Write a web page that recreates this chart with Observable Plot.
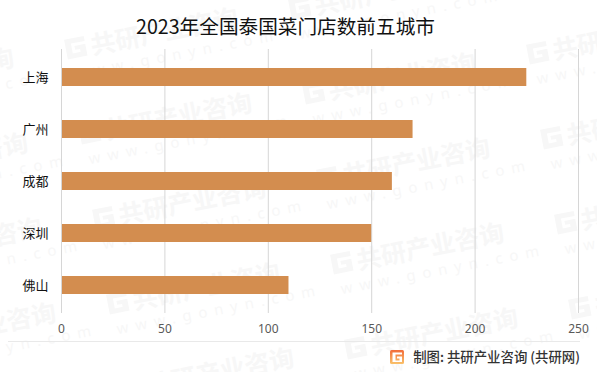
<!DOCTYPE html>
<html><head><meta charset="utf-8">
<script src="https://cdn.jsdelivr.net/npm/d3@7"></script>
<script src="https://cdn.jsdelivr.net/npm/@observablehq/plot@0.6"></script>
<style>
html,body{margin:0;padding:0;background:#fff;overflow:hidden}
#wrap{position:relative;width:597px;height:372px;overflow:hidden}
#wrap svg{position:absolute;left:0;top:0}
#title{position:absolute;left:136px;top:13px;font:400 19.65px "Noto Sans CJK SC";color:#111;line-height:26px;white-space:nowrap}
#rule{position:absolute;left:8px;width:572px;top:341px;height:1px;background:#e9e9e9}
#credit{position:absolute;right:17px;top:347px;font:500 13.4px/18px "Noto Sans CJK SC";color:#333;white-space:nowrap}
</style></head><body>
<div id="wrap"></div>
<script>
const cities = ["上海","广州","成都","深圳","佛山"];
const stores = [225,170,160,150,110];
const xTicks = [0,50,100,150,200,250];
const titleText = "2023年全国泰国菜门店数前五城市";
const creditText = "制图: 共研产业咨询 (共研网)";
const wmText = "共研产业咨询";
const wmUrl = "www.gonyn.com";
const wmAnchors = [[64,50],[288,10],[-160,90],[78,135],[302,95],[526,55],[-146,175],[92,220],[316,180],[540,140],[-132,260],[106,305],[330,265],[554,225],[-118,345],[120,390],[344,350],[568,310]];

const wrap = document.getElementById("wrap");

// watermark layer, behind the chart
const bg = d3.create("svg").attr("width",597).attr("height",372);
const wmColor = "#f7f7f7";
for (const [x,y] of wmAnchors) {
  const g = bg.append("g").attr("transform",`translate(${x},${y}) rotate(-11)`);
  g.append("path").attr("d","M2 -10 H22 V-5 H8 V5 H16 V2 H11 V-2 H22 V10 H2 Z").attr("fill",wmColor);
  g.append("text").text(wmText).attr("x",27).attr("y",10).attr("font-family","Noto Sans CJK SC").attr("font-weight",700).attr("font-size",25).attr("fill",wmColor);
  g.append("text").text(wmUrl).attr("x",6).attr("y",31).attr("font-family","Noto Sans").attr("font-size",15).attr("letter-spacing",7).attr("fill",wmColor);
}
// footer logo
const defs = bg.append("defs");
const grad = defs.append("linearGradient").attr("id","lg").attr("x1",0).attr("y1",0).attr("x2",0).attr("y2",1);
grad.append("stop").attr("offset",0).attr("stop-color","#f26b3a");
grad.append("stop").attr("offset",1).attr("stop-color","#f9c26b");
bg.append("rect").attr("x",390).attr("y",350).attr("width",14).attr("height",14).attr("rx",1.5).attr("fill","url(#lg)");
bg.append("path").attr("d","M392.5 352.5 H402 V354.5 H395.5 V360.5 H399.5 V358.5 H397 V356.5 H402 V362 H392.5 Z").attr("fill","#fff");
wrap.appendChild(bg.node());

const rows = cities.map((c,i)=>({city:c,value:stores[i]}));
const chart = Plot.plot({
  width:597, height:372,
  marginLeft:61, marginRight:19, marginTop:49, marginBottom:59,
  style:{background:"transparent",fontFamily:"Noto Sans CJK SC",overflow:"visible"},
  x:{domain:[0,250],ticks:xTicks,label:null},
  y:{domain:cities,paddingInner:0.65,paddingOuter:0.325,label:null},
  marks:[
    Plot.ruleX(xTicks,{stroke:"#d6d6d6",strokeWidth:1}),
    Plot.barX(rows,{x:"value",y:"city",fill:"#d38d4f",insetLeft:1}),
    Plot.axisX({ticks:xTicks,tickSize:0,tickPadding:11,fontSize:12,fontFamily:"Noto Sans",fill:"#595959",label:null}),
    Plot.axisY({tickSize:0,tickPadding:13,fontSize:13,fill:"#111",label:null})
  ]
});
wrap.appendChild(chart);

for (const [id,t] of [["title",titleText],["credit",creditText]]) {
  const d = document.createElement("div"); d.id=id; d.textContent=t; wrap.appendChild(d);
}
const r = document.createElement("div"); r.id="rule"; wrap.appendChild(r);
</script>
</body></html>
